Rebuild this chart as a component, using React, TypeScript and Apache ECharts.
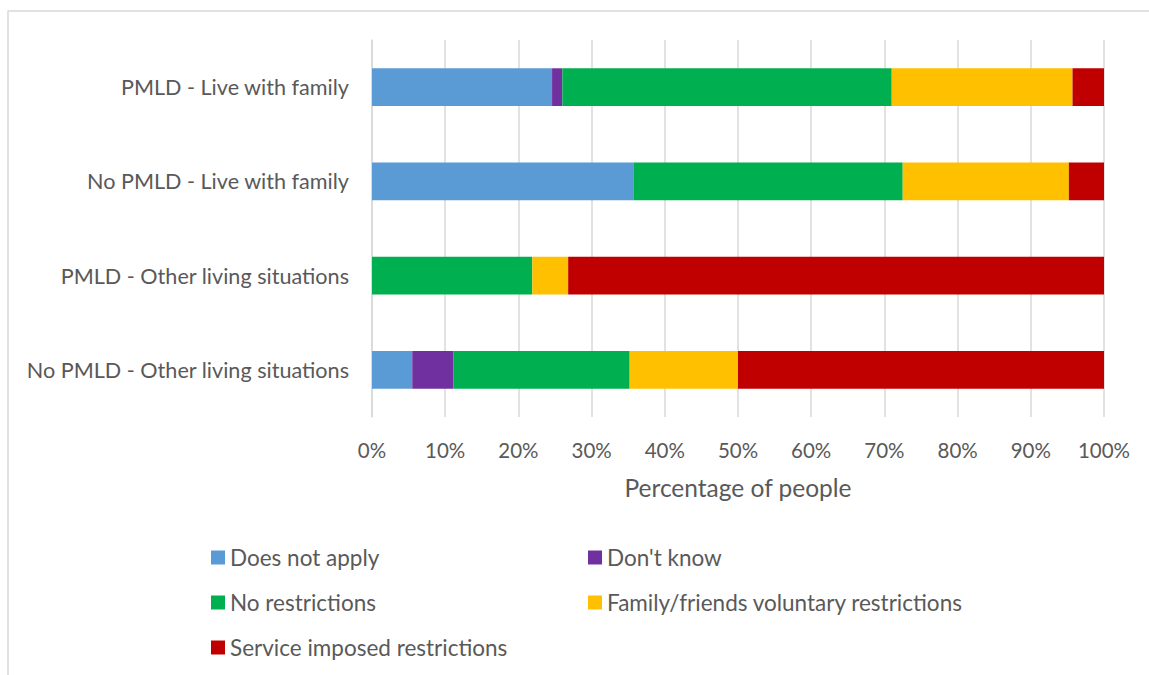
import React, { useEffect, useRef } from "react";
import * as echarts from "echarts";

const categories = [
  "PMLD - Live with family",
  "No PMLD - Live with family",
  "PMLD - Other living situations",
  "No PMLD - Other living situations",
];
const seriesNames = [
  "Does not apply",
  "Don't know",
  "No restrictions",
  "Family/friends voluntary restrictions",
  "Service imposed restrictions",
];
const doesNotApply = [24.6, 35.7, 0, 5.5];
const dontKnow = [1.4, 0, 0, 5.6];
const noRestrictions = [45.0, 36.8, 21.9, 24.1];
const familyFriends = [24.7, 22.7, 4.9, 14.8];
const serviceImposed = [4.3, 4.8, 73.2, 50.0];
const colors = ["#5B9BD5", "#7030A0", "#00B050", "#FFC000", "#C00000"];

const FONT = "Lato";
const TXT = "#595959";

export default function App() {
  const ref = useRef<HTMLDivElement>(null);
  useEffect(() => {
    if (!ref.current) return;
    const chart = echarts.init(ref.current, undefined, { renderer: "svg" });
    const values = [doesNotApply, dontKnow, noRestrictions, familyFriends, serviceImposed];
    const legendPos = [
      { left: 211, top: 546 },
      { left: 588, top: 546 },
      { left: 211, top: 591 },
      { left: 588, top: 591 },
      { left: 211, top: 636 },
    ];
    chart.setOption({
      animation: false,
      color: colors,
      graphic: [
        {
          type: "rect",
          shape: { x: 8, y: 11, width: 1160, height: 700 },
          style: { fill: "none", stroke: "#d9d9d9", lineWidth: 1.5 },
          silent: true,
        },
      ],
      legend: seriesNames.map((n, i) => ({
        data: [n],
        left: legendPos[i].left,
        top: legendPos[i].top,
        icon: "rect",
        itemWidth: 14,
        itemHeight: 14,
        padding: 0,
        textStyle: { color: TXT, fontSize: 22.5, fontFamily: FONT },
        selectedMode: false,
      })),
      grid: { left: 372, top: 40, width: 732, height: 377, containLabel: false },
      xAxis: {
        type: "value",
        min: 0,
        max: 100,
        interval: 10,
        name: "Percentage of people",
        nameLocation: "middle",
        nameGap: 58,
        nameTextStyle: { color: TXT, fontSize: 24.5, fontFamily: FONT },
        axisLine: { show: false },
        axisTick: { show: false },
        axisLabel: {
          formatter: "{value}%",
          color: TXT,
          fontSize: 20.5,
          fontFamily: FONT,
          margin: 22,
        },
        splitLine: { show: true, lineStyle: { color: "#d9d9d9", width: 1.5 } },
      },
      yAxis: {
        type: "category",
        data: categories,
        inverse: true,
        axisLine: { show: true, lineStyle: { color: "#d9d9d9", width: 1.5 } },
        axisTick: { show: false },
        axisLabel: { color: TXT, fontSize: 21.6, fontFamily: FONT, margin: 23 },
      },
      series: seriesNames.map((n, i) => ({
        name: n,
        type: "bar",
        stack: "total",
        barWidth: "40%",
        data: values[i],
        itemStyle: { color: colors[i] },
      })),
    });
    return () => chart.dispose();
  }, []);
  return (
    <div
      ref={ref}
      style={{ position: "fixed", left: 0, top: 0, width: 1149, height: 675, background: "#fff" }}
    />
  );
}
